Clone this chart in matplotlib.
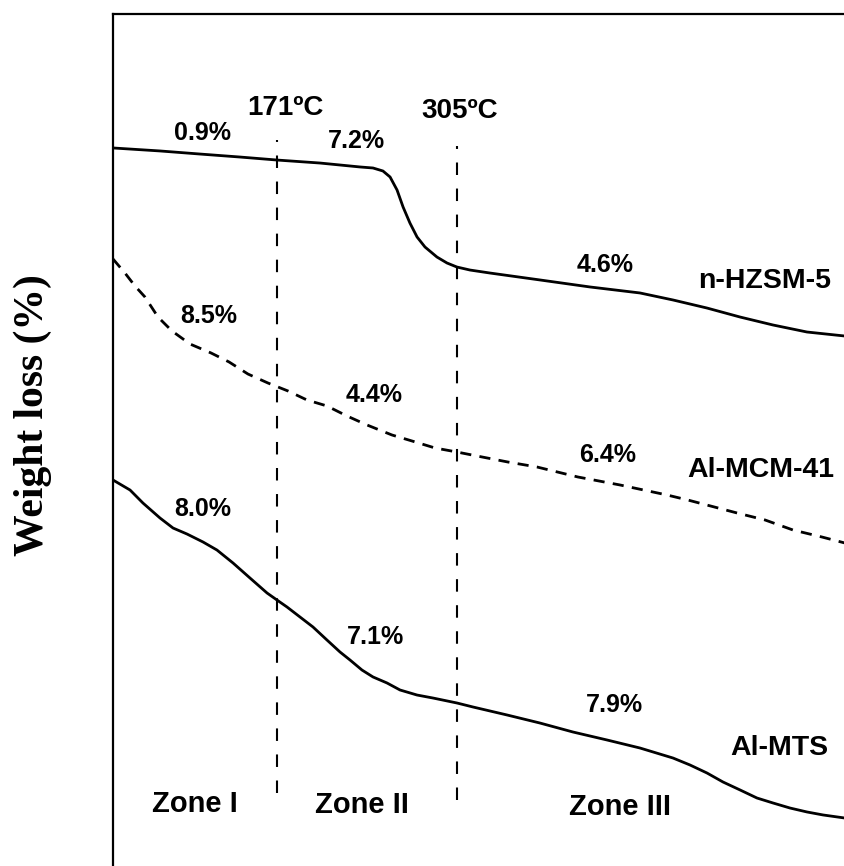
import matplotlib
matplotlib.use('Agg')
import numpy as np
from matplotlib import pyplot as plt

# temperature (C) and relative weight for each TGA curve
hzsm_t = [49, 84.0, 113.8, 143.6, 171.1, 203.1, 232.9, 242.6, 250.0, 255.3, 260.5, 265.0,
          270.1, 275.4, 281.3, 290.2, 297.7, 305.1, 314.8, 329.7, 366.9, 404.2, 441.4,
          466.0, 491.3, 515.9, 540.4, 565.7, 594.0]
hzsm_w = [84.35, 84.00, 83.64, 83.29, 82.94, 82.59, 82.13, 82.01, 81.66, 80.96, 79.44, 77.45,
          75.58, 73.95, 72.78, 71.61, 70.91, 70.44, 70.09, 69.74, 68.93, 68.11, 67.41,
          66.59, 65.65, 64.60, 63.67, 62.85, 62.38]

mcm_t = [49, 57.9, 65.4, 72.8, 82.5, 92.9, 106.3, 122.0, 135.4, 149.5, 164.4, 179.3, 193.4,
         208.3, 223.2, 238.1, 256.7, 271.6, 288.8, 305.1, 323.8, 343.1, 364.7, 395.2,
         426.5, 461.5, 477.1, 513.6, 534.5, 555.3, 576.9, 594.0]
mcm_w = [71.38, 69.74, 68.22, 66.94, 64.60, 62.97, 61.45, 60.40, 59.35, 57.94, 56.89, 55.96,
         54.91, 54.21, 53.04, 51.99, 50.82, 50.12, 49.30, 48.83, 48.25, 47.66, 47.08,
         45.91, 44.98, 43.81, 43.22, 41.71, 40.89, 39.72, 38.90, 38.20]

mts_t = [49, 61.7, 71.3, 84.0, 93.7, 104.1, 116.0, 126.4, 138.4, 151.0, 163.7, 171.1, 178.6,
         188.2, 197.9, 208.3, 218.0, 225.5, 234.4, 242.6, 253.0, 262.7, 275.4, 287.3, 305.1,
         317.1, 342.4, 366.9, 391.5, 416.8, 441.4, 466.0, 478.6, 491.3, 503.2, 515.9,
         528.5, 540.4, 553.1, 565.7, 577.7, 594.0]
mts_w = [45.56, 44.39, 42.87, 41.12, 39.95, 39.25, 38.32, 37.38, 35.86, 34.11, 32.36, 31.54,
         30.72, 29.56, 28.39, 26.87, 25.47, 24.53, 23.36, 22.55, 21.85, 21.03, 20.44, 20.09,
         19.51, 19.04, 18.11, 17.17, 16.12, 15.19, 14.25, 13.08, 12.27, 11.33, 10.28, 9.35,
         8.41, 7.83, 7.24, 6.78, 6.43, 6.07]

zone_temps = [171, 305]
zone_temp_labels = ['171ºC', '305ºC']
loss_labels = ['0.9%', '7.2%', '4.6%', '8.5%', '4.4%', '6.4%', '8.0%', '7.1%', '7.9%']
sample_names = ['n-HZSM-5', 'Al-MCM-41', 'Al-MTS']
zone_names = ['Zone I', 'Zone II', 'Zone III']

fig = plt.figure(figsize=(8.45, 8.66), dpi=100)
# axes runs past the right and bottom edge like in the cropped original
ax = fig.add_axes([113 / 845, -4 / 866, 740 / 845, 856 / 866])
ax.set_xlim(49, 600)
ax.set_ylim(0, 100)

ax.plot(hzsm_t, hzsm_w, color='black', lw=2.0, solid_joinstyle='round')
ax.plot(mcm_t, mcm_w, color='black', lw=2.0, linestyle=(0, (4, 3)))
ax.plot(mts_t, mts_w, color='black', lw=2.0, solid_joinstyle='round')

ax.vlines(zone_temps[0], 9.0, 85.3, color='black', lw=1.5, linestyle=(0, (6, 6.5)))
ax.vlines(zone_temps[1], 8.2, 84.6, color='black', lw=1.5, linestyle=(0, (6, 6.5)))

sans = dict(family='Liberation Sans', fontweight='bold', ha='center', va='baseline')

# temperature markers
for lab, (x, y) in zip(zone_temp_labels, [(177.1, 88.2), (307.4, 87.85)]):
    ax.text(x, y, lab, fontsize=20, **sans)

# weight loss percentages
loss_pos = [(116.0, 85.28), (229.9, 84.35), (415.3, 69.86),
            (120.5, 63.9), (243.3, 54.67), (417.6, 47.66),
            (116.0, 41.36), (244.1, 26.4), (422.0, 18.46)]
for lab, (x, y) in zip(loss_labels, loss_pos):
    ax.text(x, y, lab, fontsize=18, **sans)

# sample names
for lab, (x, y) in zip(sample_names, [(534.5, 67.99), (531.5, 45.91), (544.9, 13.43)]):
    ax.text(x, y, lab, fontsize=20.5, **sans)

# zones
for lab, (x, y) in zip(zone_names, [(110.1, 6.78), (234.4, 6.66), (426.5, 6.43)]):
    ax.text(x, y, lab, fontsize=21, **sans)

ax.set_xticks([])
ax.set_yticks([])
for s in ax.spines.values():
    s.set_linewidth(1.6)

fig.text(33 / 845, 1 - 415 / 866, 'Weight loss (%)', rotation=90, ha='center', va='center',
         family='Liberation Serif', fontweight='bold', fontsize=30)

fig.savefig('out.png', dpi=100)
